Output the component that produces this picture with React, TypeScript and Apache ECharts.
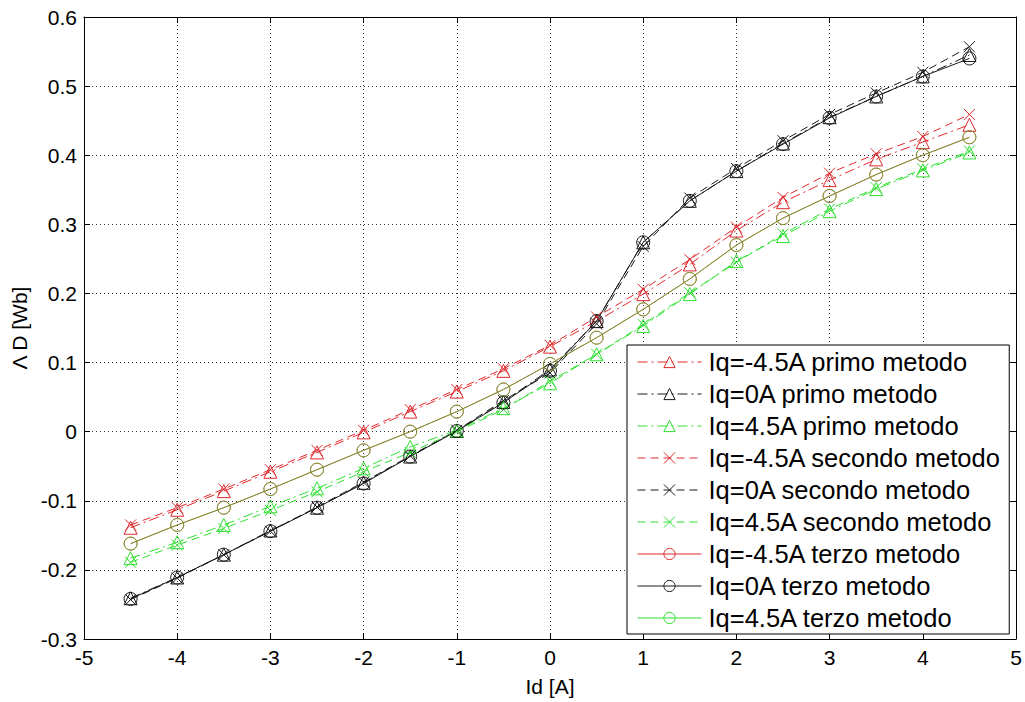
import React, { useEffect, useRef } from "react";
import * as echarts from "echarts";

const idValues = [-4.5, -4, -3.5, -3, -2.5, -2, -1.5, -1, -0.5, 0, 0.5, 1, 1.5, 2, 2.5, 3, 3.5, 4, 4.5];

const redPrimo = [-0.139, -0.113, -0.086, -0.058, -0.030, -0.001, 0.029, 0.058, 0.088, 0.123, 0.160, 0.199, 0.242, 0.291, 0.332, 0.364, 0.394, 0.419, 0.444];
const blackPrimo = [-0.241, -0.211, -0.178, -0.143, -0.110, -0.074, -0.036, 0.001, 0.043, 0.090, 0.160, 0.274, 0.334, 0.377, 0.417, 0.455, 0.485, 0.514, 0.545];
const greenPrimo = [-0.183, -0.160, -0.135, -0.108, -0.082, -0.053, -0.022, 0.002, 0.034, 0.070, 0.112, 0.153, 0.199, 0.247, 0.283, 0.319, 0.351, 0.378, 0.404];
const redSecondo = [-0.135, -0.110, -0.083, -0.055, -0.027, 0.002, 0.032, 0.061, 0.091, 0.125, 0.166, 0.206, 0.249, 0.296, 0.339, 0.374, 0.402, 0.427, 0.459];
const blackSecondo = [-0.243, -0.212, -0.178, -0.144, -0.109, -0.073, -0.035, 0.002, 0.045, 0.085, 0.156, 0.268, 0.338, 0.381, 0.421, 0.459, 0.490, 0.520, 0.557];
const greenSecondo = [-0.189, -0.164, -0.140, -0.114, -0.087, -0.058, -0.030, 0.000, 0.032, 0.073, 0.112, 0.155, 0.201, 0.245, 0.286, 0.322, 0.353, 0.380, 0.406];
const redTerzo = [-0.162, -0.135, -0.110, -0.083, -0.055, -0.027, 0.000, 0.029, 0.061, 0.098, 0.136, 0.177, 0.221, 0.270, 0.309, 0.341, 0.372, 0.400, 0.426];
const blackTerzo = [-0.242, -0.211, -0.178, -0.144, -0.110, -0.075, -0.036, 0.001, 0.042, 0.088, 0.160, 0.274, 0.334, 0.377, 0.416, 0.454, 0.485, 0.514, 0.540];
const greenTerzo = [-0.162, -0.135, -0.110, -0.083, -0.055, -0.027, 0.000, 0.029, 0.061, 0.098, 0.136, 0.177, 0.221, 0.270, 0.309, 0.341, 0.372, 0.400, 0.426];

const seriesNames = [
  "Iq=-4.5A primo metodo",
  "Iq=0A primo metodo",
  "Iq=4.5A primo metodo",
  "Iq=-4.5A secondo metodo",
  "Iq=0A secondo metodo",
  "Iq=4.5A secondo metodo",
  "Iq=-4.5A terzo metodo",
  "Iq=0A terzo metodo",
  "Iq=4.5A terzo metodo",
];

const RED = "#e0282c";
const BLACK = "#1a1a1a";
const GREEN = "#2ee02e";
const DASHDOT = [10, 4, 2, 4];
const DASHED = [8, 5];
const CROSS = "path://M0 0L10 10M10 0L0 10";

const FONT = "Liberation Sans, Arial, sans-serif";

export default function App() {
  const ref = useRef<HTMLDivElement>(null);

  useEffect(() => {
    if (!ref.current) return;
    const chart = echarts.init(ref.current, null, { renderer: "svg" });

    const mk = (
      name: string,
      values: number[],
      color: string,
      dash: any,
      symbol: string,
      size: number,
      opacity = 1
    ) => ({
      name,
      type: "line",
      data: idValues.map((x, i) => [x, values[i]]),
      symbol,
      symbolSize: size,
      showSymbol: true,
      lineStyle: { color, width: 1, type: dash, opacity },
      itemStyle: { color: "none", borderColor: color, borderWidth: 1, opacity },
      emphasis: { disabled: true },
      z: 3,
    });

    const series = [
      mk(seriesNames[0], redPrimo, RED, DASHDOT, "triangle", 13),
      mk(seriesNames[1], blackPrimo, BLACK, DASHDOT, "triangle", 13),
      mk(seriesNames[2], greenPrimo, GREEN, DASHDOT, "triangle", 13),
      mk(seriesNames[3], redSecondo, RED, DASHED, CROSS, 11),
      mk(seriesNames[4], blackSecondo, BLACK, DASHED, CROSS, 11),
      mk(seriesNames[5], greenSecondo, GREEN, DASHED, CROSS, 11),
      mk(seriesNames[6], redTerzo, RED, "solid", "circle", 13),
      mk(seriesNames[7], blackTerzo, BLACK, "solid", "circle", 13),
      mk(seriesNames[8], greenTerzo, GREEN, "solid", "circle", 13, 0.6),
    ];

    const colors = [RED, BLACK, GREEN, RED, BLACK, GREEN, RED, BLACK, GREEN];
    const dashes = [DASHDOT, DASHDOT, DASHDOT, DASHED, DASHED, DASHED, "solid", "solid", "solid"];

    const option: any = {
      animation: false,
      backgroundColor: "#ffffff",
      grid: { left: 84, right: 9, top: 17, bottom: 61, containLabel: false },
      xAxis: [
        {
          type: "value",
          min: -5,
          max: 5,
          interval: 1,
          position: "bottom",
          name: "Id [A]",
          nameLocation: "middle",
          nameGap: 37,
          nameTextStyle: { fontFamily: FONT, fontSize: 21, color: "#000" },
          axisLine: { show: true, onZero: false, lineStyle: { color: "#000", width: 1 } },
          axisTick: { show: true, inside: true, length: 6, lineStyle: { color: "#000" } },
          axisLabel: { fontFamily: FONT, fontSize: 21, color: "#000", margin: 8 },
          splitLine: { show: true, lineStyle: { color: "#333", width: 1, type: [1, 3] } },
        },
        {
          type: "value",
          min: -5,
          max: 5,
          interval: 1,
          position: "top",
          axisLine: { show: true, onZero: false, lineStyle: { color: "#000", width: 1 } },
          axisTick: { show: true, inside: true, length: 6, lineStyle: { color: "#000" } },
          axisLabel: { show: false },
          splitLine: { show: false },
        },
      ],
      yAxis: [
        {
          type: "value",
          min: -0.3,
          max: 0.6,
          interval: 0.1,
          position: "left",
          name: "\u039B D [Wb]",
          nameLocation: "middle",
          nameGap: 50,
          nameRotate: 90,
          nameTextStyle: { fontFamily: FONT, fontSize: 21, color: "#000" },
          axisLine: { show: true, onZero: false, lineStyle: { color: "#000", width: 1 } },
          axisTick: { show: true, inside: true, length: 6, lineStyle: { color: "#000" } },
          axisLabel: {
            fontFamily: FONT,
            fontSize: 21,
            color: "#000",
            margin: 7,
            formatter: (v: number) => String(Math.round(v * 10) / 10),
          },
          splitLine: { show: true, lineStyle: { color: "#333", width: 1, type: [1, 3] } },
        },
        {
          type: "value",
          min: -0.3,
          max: 0.6,
          interval: 0.1,
          position: "right",
          axisLine: { show: true, onZero: false, lineStyle: { color: "#000", width: 1 } },
          axisTick: { show: true, inside: true, length: 6, lineStyle: { color: "#000" } },
          axisLabel: { show: false },
          splitLine: { show: false },
        },
      ],
      legend: {
        orient: "vertical",
        left: 627,
        top: 345,
        padding: [4, 8, 3, 10],
        itemWidth: 64,
        itemHeight: 14,
        itemGap: 6,
        backgroundColor: "#ffffff",
        borderColor: "#000",
        borderWidth: 1,
        borderRadius: 0,
        textStyle: { fontFamily: FONT, fontSize: 25.5, color: "#000", lineHeight: 26, padding: [0, 0, 0, 2] },
        data: seriesNames.map((n, i) => ({
          name: n,
          itemStyle: { color: "none", borderColor: colors[i], borderWidth: 1, opacity: 1 },
          lineStyle: { color: colors[i], width: 1, type: dashes[i], opacity: 1 },
        })),
        selectedMode: false,
      },
      series,
    };

    chart.setOption(option);
    return () => chart.dispose();
  }, []);

  return <div ref={ref} style={{ width: 1025, height: 702, position: "absolute", left: 0, top: 0 }} />;
}
